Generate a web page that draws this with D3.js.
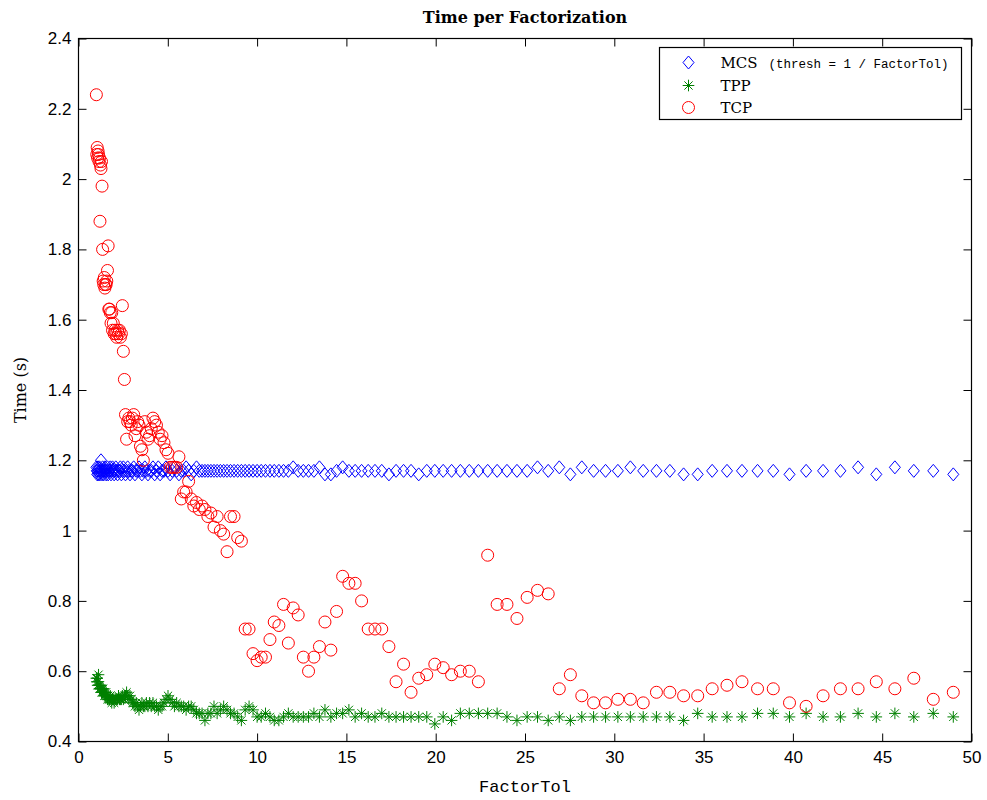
<!DOCTYPE html>
<html>
<head>
<meta charset="utf-8">
<script src="https://cdn.jsdelivr.net/npm/d3@7"></script>
<style>
  body { margin: 0; background: #fff; }
  svg { display: block; }
</style>
</head>
<body>
<svg id="chart" width="987" height="800"></svg>
<script>
// FactorTol values (shared by all three series)
const factorTol = [
  1.000,1.023,1.047,1.072,1.096,1.122,1.148,1.175,1.202,1.230,
  1.259,1.288,1.318,1.349,1.380,1.413,1.445,1.479,1.514,1.549,
  1.585,1.622,1.660,1.698,1.738,1.778,1.820,1.862,1.905,1.950,
  1.995,2.042,2.089,2.138,2.188,2.239,2.291,2.344,2.399,2.455,
  2.512,2.570,2.630,2.692,2.754,2.818,2.884,2.951,3.020,3.090,
  3.162,3.236,3.311,3.388,3.467,3.548,3.631,3.715,3.802,3.890,
  3.981,4.074,4.169,4.266,4.365,4.467,4.571,4.677,4.786,4.898,
  5.012,5.129,5.248,5.370,5.495,5.623,5.754,5.888,6.026,6.166,
  6.310,6.457,6.607,6.761,6.918,7.079,7.244,7.413,7.586,7.762,
  7.943,8.128,8.318,8.511,8.710,8.913,9.120,9.333,9.550,9.772,
  10.00,10.23,10.47,10.72,10.96,11.22,11.48,11.75,12.02,12.30,
  12.59,12.88,13.18,13.49,13.80,14.13,14.45,14.79,15.14,15.49,
  15.85,16.22,16.60,16.98,17.38,17.78,18.20,18.62,19.05,19.50,
  19.95,20.42,20.89,21.38,21.88,22.39,22.91,23.44,23.99,24.55,
  25.12,25.70,26.30,26.92,27.54,28.18,28.84,29.51,30.20,30.90,
  31.62,32.36,33.11,33.88,34.67,35.48,36.31,37.15,38.02,38.90,
  39.81,40.74,41.69,42.66,43.65,44.67,45.71,46.77,47.86,48.98
];

const mcsTime = [
  1.18,1.17,1.16,1.17,1.18,1.16,1.17,1.18,1.16,1.17,
  1.20,1.17,1.16,1.18,1.17,1.16,1.17,1.18,1.17,1.16,
  1.17,1.18,1.16,1.17,1.17,1.18,1.16,1.17,1.18,1.17,
  1.16,1.17,1.18,1.17,1.16,1.17,1.17,1.18,1.16,1.17,
  1.18,1.17,1.16,1.17,1.18,1.17,1.16,1.17,1.17,1.18,
  1.16,1.17,1.17,1.18,1.17,1.16,1.17,1.18,1.17,1.16,
  1.17,1.17,1.18,1.16,1.17,1.18,1.16,1.17,1.17,1.18,
  1.17,1.16,1.17,1.18,1.17,1.16,1.17,1.17,1.18,1.17,
  1.16,1.17,1.18,1.17,1.17,1.17,1.17,1.17,1.17,1.17,
  1.17,1.17,1.17,1.17,1.17,1.17,1.17,1.17,1.17,1.17,
  1.17,1.17,1.17,1.17,1.17,1.17,1.17,1.17,1.18,1.17,
  1.17,1.17,1.17,1.18,1.16,1.16,1.17,1.18,1.17,1.17,
  1.17,1.17,1.17,1.17,1.16,1.17,1.17,1.17,1.16,1.17,
  1.17,1.17,1.17,1.17,1.17,1.17,1.17,1.17,1.17,1.17,
  1.17,1.18,1.17,1.18,1.16,1.18,1.17,1.17,1.17,1.18,
  1.17,1.17,1.17,1.16,1.16,1.17,1.17,1.17,1.17,1.17,
  1.16,1.17,1.17,1.17,1.18,1.16,1.18,1.17,1.17,1.16
];

const tppTime = [
  0.58,0.57,0.58,0.56,0.57,0.59,0.56,0.55,0.56,0.55,
  0.55,0.54,0.55,0.54,0.55,0.54,0.53,0.54,0.53,0.54,
  0.53,0.52,0.53,0.52,0.52,0.53,0.52,0.51,0.52,0.52,
  0.51,0.52,0.52,0.52,0.52,0.53,0.52,0.52,0.52,0.53,
  0.52,0.53,0.53,0.54,0.53,0.52,0.53,0.52,0.51,0.51,
  0.50,0.51,0.50,0.49,0.50,0.51,0.50,0.50,0.51,0.50,
  0.51,0.50,0.51,0.50,0.50,0.49,0.50,0.50,0.51,0.52,
  0.53,0.52,0.51,0.50,0.51,0.50,0.50,0.50,0.49,0.50,
  0.50,0.49,0.48,0.48,0.48,0.46,0.48,0.48,0.50,0.48,
  0.49,0.50,0.49,0.48,0.48,0.47,0.46,0.49,0.50,0.49,
  0.47,0.47,0.48,0.47,0.46,0.46,0.47,0.48,0.47,0.47,
  0.47,0.47,0.48,0.47,0.49,0.47,0.48,0.48,0.49,0.47,
  0.48,0.47,0.47,0.48,0.47,0.47,0.47,0.47,0.47,0.47,
  0.45,0.47,0.46,0.48,0.48,0.48,0.48,0.48,0.47,0.46,
  0.47,0.47,0.46,0.47,0.46,0.47,0.47,0.47,0.47,0.47,
  0.47,0.47,0.47,0.46,0.48,0.47,0.47,0.47,0.48,0.48,
  0.47,0.48,0.47,0.47,0.48,0.47,0.48,0.47,0.48,0.47
];

const tcpTime = [
  2.24,2.07,2.09,2.06,2.08,2.07,2.05,2.06,1.88,2.04,
  2.03,2.05,1.98,1.80,1.71,1.70,1.72,1.69,1.70,1.70,
  1.71,1.74,1.81,1.63,1.63,1.62,1.59,1.62,1.57,1.59,
  1.56,1.57,1.56,1.55,1.57,1.56,1.57,1.55,1.56,1.64,
  1.51,1.43,1.33,1.26,1.31,1.32,1.31,1.30,1.32,1.33,
  1.27,1.29,1.31,1.30,1.24,1.23,1.20,1.31,1.28,1.26,
  1.27,1.29,1.32,1.31,1.30,1.28,1.26,1.27,1.25,1.23,
  1.22,1.18,1.18,1.18,1.18,1.21,1.09,1.11,1.11,1.14,
  1.09,1.07,1.08,1.06,1.07,1.06,1.04,1.05,1.01,1.04,
  1.00,0.99,0.94,1.04,1.04,0.98,0.97,0.72,0.72,0.65,
  0.63,0.64,0.64,0.69,0.74,0.73,0.79,0.68,0.78,0.76,
  0.64,0.60,0.64,0.67,0.74,0.66,0.77,0.87,0.85,0.85,
  0.80,0.72,0.72,0.72,0.67,0.57,0.62,0.54,0.58,0.59,
  0.62,0.61,0.59,0.60,0.60,0.57,0.93,0.79,0.79,0.75,
  0.81,0.83,0.82,0.55,0.59,0.53,0.51,0.51,0.52,0.52,
  0.51,0.54,0.54,0.53,0.53,0.55,0.56,0.57,0.55,0.55,
  0.51,0.50,0.53,0.55,0.55,0.57,0.55,0.58,0.52,0.54
];

const xTicks = [0, 5, 10, 15, 20, 25, 30, 35, 40, 45, 50];
const yTicks = [0.4, 0.6, 0.8, 1.0, 1.2, 1.4, 1.6, 1.8, 2.0, 2.2, 2.4];

const svg = d3.select("#chart");

// plot area (pixels)
const area = { left: 78.5, right: 971.5, top: 38.5, bottom: 741.5 };

const scaleX = d3.scaleLinear().domain([0, 50]).range([area.left, area.right]);
const scaleY = d3.scaleLinear().domain([0.4, 2.4]).range([area.bottom, area.top]);

// marker shapes, matlab style
const diamondSym = {
  draw(ctx) {
    ctx.moveTo(0, -6.5); ctx.lineTo(5.5, 0); ctx.lineTo(0, 6.5); ctx.lineTo(-5.5, 0); ctx.closePath();
  }
};
const starSym = {
  draw(ctx) {
    const r = 5.8, d = 4.1;
    ctx.moveTo(-r, 0); ctx.lineTo(r, 0);
    ctx.moveTo(0, -r); ctx.lineTo(0, r);
    ctx.moveTo(-d, -d); ctx.lineTo(d, d);
    ctx.moveTo(-d, d); ctx.lineTo(d, -d);
  }
};
const circleSym = {
  draw(ctx) {
    ctx.moveTo(6, 0); ctx.arc(0, 0, 6, 0, 2 * Math.PI);
  }
};

const series = [
  { name: "MCS", values: mcsTime, color: "#0000ff", sym: diamondSym },
  { name: "TPP", values: tppTime, color: "#008000", sym: starSym },
  { name: "TCP", values: tcpTime, color: "#ff0000", sym: circleSym }
];

const serif = "'DejaVu Serif', 'Liberation Serif', serif";
const mono = "'Liberation Mono', 'DejaVu Sans Mono', monospace";

// axes with inward ticks (mirrored on top / right)
const fmt = d => String(+d.toFixed(1));

const gBottom = svg.append("g")
  .attr("transform", `translate(0, ${area.bottom})`)
  .call(d3.axisBottom(scaleX).tickValues(xTicks).tickSize(-8).tickPadding(9).tickFormat(fmt));
const gLeft = svg.append("g")
  .attr("transform", `translate(${area.left}, 0)`)
  .call(d3.axisLeft(scaleY).tickValues(yTicks).tickSize(-8).tickPadding(7).tickFormat(fmt));
const gTop = svg.append("g")
  .attr("transform", `translate(0, ${area.top})`)
  .call(d3.axisTop(scaleX).tickValues(xTicks).tickSize(-8).tickFormat(""));
const gRight = svg.append("g")
  .attr("transform", `translate(${area.right}, 0)`)
  .call(d3.axisRight(scaleY).tickValues(yTicks).tickSize(-8).tickFormat(""));

[gBottom, gLeft, gTop, gRight].forEach(g => {
  g.select(".domain").remove();
  g.selectAll(".tick line").attr("stroke", "#000").attr("stroke-width", 1);
  g.selectAll(".tick text")
    .attr("fill", "#000")
    .style("font-family", "'Liberation Sans', Arial, sans-serif")
    .style("font-size", "17px");
});

// frame
svg.append("rect")
  .attr("x", area.left).attr("y", area.top)
  .attr("width", area.right - area.left).attr("height", area.bottom - area.top)
  .attr("fill", "none").attr("stroke", "#000").attr("stroke-width", 1.2);

// points
series.forEach(s => {
  svg.append("g")
    .selectAll("path")
    .data(factorTol.map((f, i) => ({ x: f, y: s.values[i] })))
    .enter()
    .append("path")
    .attr("d", d3.symbol().type(s.sym))
    .attr("transform", d => `translate(${scaleX(d.x)}, ${scaleY(d.y)})`)
    .attr("fill", "none")
    .attr("stroke", s.color)
    .attr("stroke-width", 1);
});

// titles
svg.append("text")
  .attr("x", (area.left + area.right) / 2).attr("y", 23)
  .attr("text-anchor", "middle")
  .style("font-family", serif)
  .style("font-weight", "bold")
  .style("font-size", "16px")
  .text("Time per Factorization");

svg.append("text")
  .attr("x", (area.left + area.right) / 2).attr("y", 792)
  .attr("text-anchor", "middle")
  .style("font-family", mono)
  .style("font-size", "17px")
  .text("FactorTol");

svg.append("text")
  .attr("transform", `translate(26, ${(area.top + area.bottom) / 2}) rotate(-90)`)
  .attr("text-anchor", "middle")
  .style("font-family", serif)
  .style("font-size", "16px")
  .text("Time (s)");

// legend
const legend = svg.append("g").attr("transform", "translate(659.5, 47.5)");
legend.append("rect")
  .attr("width", 302).attr("height", 72)
  .attr("fill", "#fff").attr("stroke", "#000").attr("stroke-width", 1.2);

const rowY = [15, 38, 60];
series.forEach((s, i) => {
  legend.append("path")
    .attr("d", d3.symbol().type(s.sym))
    .attr("transform", `translate(29, ${rowY[i]})`)
    .attr("fill", "none").attr("stroke", s.color).attr("stroke-width", 1);
  legend.append("text")
    .attr("x", 61).attr("y", rowY[i] + 5.5)
    .style("font-family", serif)
    .style("font-size", "15px")
    .text(s.name);
});
legend.append("text")
  .attr("x", 109).attr("y", rowY[0] + 5)
  .style("font-family", mono)
  .style("font-size", "12.5px")
  .text("(thresh = 1 / FactorTol)");
</script>
</body>
</html>
